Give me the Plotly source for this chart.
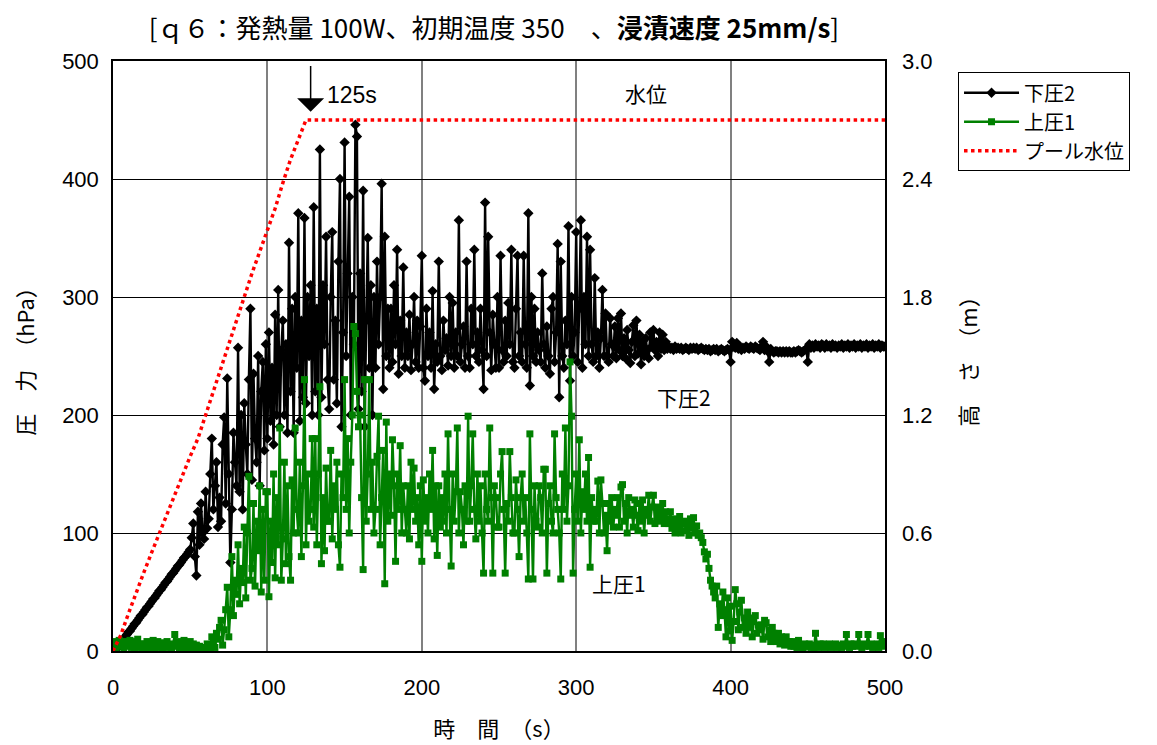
import plotly.graph_objects as go

# time axis for pressure series (s), every 1 s
t_p = list(range(0, 501))

# 下圧2 (hPa)
p_low2 = [
    0, 0, 2, 3, 5, 7, 9, 10, 12, 14,
    16, 17, 19, 21, 23, 24, 26, 28, 30, 31,
    33, 35, 37, 38, 40, 42, 44, 45, 47, 49,
    51, 52, 54, 56, 58, 59, 61, 63, 65, 66,
    68, 70, 72, 73, 75, 77, 79, 80, 82, 84,
    86, 96, 108, 80, 64, 118, 90, 125, 100, 95,
    135, 104, 112, 150, 180, 120, 140, 160, 105, 130,
    110, 175, 198, 125, 231, 150, 75, 120, 185, 160,
    140, 257, 135, 200, 120, 210, 175, 150, 230, 290,
    145, 235, 180, 160, 250, 140, 220, 245, 170, 260,
    180, 270, 195, 240, 175, 285, 200, 306, 190, 255,
    280, 200, 260, 185, 346, 220, 290, 185, 300, 240,
    371, 195, 280, 215, 367, 210, 300, 250, 310, 200,
    376, 220, 290, 200, 425, 215, 310, 260, 351, 230,
    205, 300, 355, 230, 280, 210, 330, 400, 190, 270,
    431, 250, 320, 385, 200, 300, 260, 446, 436, 205,
    320, 220, 390, 190, 280, 350, 240, 310, 200, 300,
    240, 330, 260, 300, 396, 222, 351, 250, 290, 240,
    290, 245, 310, 260, 340, 235, 280, 250, 325, 240,
    270, 250, 285, 238, 260, 300, 245, 280, 240, 275,
    335, 240, 229, 290, 250, 270, 240, 305, 222, 260,
    245, 330, 250, 238, 280, 255, 265, 242, 300, 250,
    295, 240, 270, 250, 365, 245, 260, 275, 240, 330,
    250, 240, 290, 260, 340, 250, 270, 245, 290, 255,
    222, 380, 250, 351, 270, 238, 285, 260, 240, 300,
    240, 335, 255, 245, 280, 250, 295, 260, 340, 245,
    240, 290, 335, 250, 270, 245, 335, 260, 240, 371,
    225, 300, 250, 290, 245, 270, 255, 245, 320, 260,
    240, 275, 250, 235, 290, 300, 245, 270, 345, 215,
    330, 250, 240, 280, 260, 360, 229, 300, 250, 270,
    355, 245, 290, 365, 240, 300, 260, 351, 250, 340,
    260, 245, 316, 250, 270, 240, 265, 306, 250, 286,
    250, 245, 282, 260, 250, 275, 248, 282, 255, 286,
    250, 265, 248, 272, 255, 244, 262, 276, 250, 280,
    252, 268, 243, 262, 250, 265, 255, 248, 270, 258,
    272, 255, 262, 250, 270, 256, 268, 255, 262, 256,
    258, 256, 257, 255, 258, 256, 257, 256, 257, 255,
    256, 257, 256, 255, 257, 256, 257, 256, 257, 255,
    256, 257, 256, 255, 256, 255, 256, 254, 255, 256,
    255, 256, 254, 255, 256, 255, 254, 255, 256, 255,
    245, 262, 258, 257, 261, 256, 258, 255, 257, 256,
    258, 257, 256, 258, 257, 256, 258, 257, 256, 255,
    258, 262, 255, 258, 254, 245, 256, 254, 253, 254,
    254, 253, 254, 253, 254, 253, 254, 253, 254, 253,
    253, 254, 253, 254, 255, 254, 253, 254, 255, 256,
    245, 260, 257, 259, 257, 260, 258, 259, 257, 260,
    259, 257, 260, 258, 259, 257, 260, 258, 259, 257,
    259, 258, 260, 257, 259, 258, 260, 257, 259, 258,
    260, 257, 259, 258, 260, 257, 259, 258, 260, 257,
    259, 258, 260, 257, 259, 258, 260, 257, 259, 258,
    258,
]

# 上圧1 (hPa)
p_up1 = [
    5, 8, 3, 6, 9, 4, 7, 2, 8, 5,
    4, 9, 3, 7, 2, 8, 10, 3, 6, 2,
    6, 4, 8, 2, 6, 3, 9, 1, 5, 8,
    3, 6, 2, 7, 4, 8, 3, 5, 2, 6,
    14, 4, 8, 2, 6, 3, 9, 1, 5, 0,
    8, 3, 6, 2, 5, 1, 4, 0, 3, 1,
    2, 6, 4, 0, 12, 8, 3, 15, 10, 20,
    26, 5, 18, 35, 54, 12, 35, 80, 30, 60,
    48, 90, 40, 70, 58, 105, 45, 100, 148, 60,
    70, 125, 55, 110, 85, 140, 50, 120, 60, 135,
    135, 46, 110, 75, 150, 62, 130, 90, 189, 60,
    95, 160, 74, 140, 80, 60, 145, 100, 189, 120,
    100, 160, 80, 140, 230, 90, 150, 110, 120, 180,
    105, 180, 90, 150, 224, 74, 130, 85, 155, 110,
    110, 170, 95, 140, 120, 160, 90, 71, 150, 130,
    230, 120, 180, 100, 160, 200, 275, 269, 220, 190,
    200, 130, 69, 230, 110, 150, 230, 120, 160, 100,
    120, 165, 199, 90, 130, 170, 57, 194, 110, 150,
    115, 179, 140, 76, 150, 120, 174, 100, 140, 120,
    100, 140, 95, 160, 120, 155, 110, 130, 90, 140,
    76, 145, 110, 130, 100, 150, 120, 170, 95, 140,
    81, 140, 105, 130, 110, 150, 100, 184, 120, 72,
    150, 110, 135, 189, 100, 135, 120, 90, 140, 110,
    199, 110, 140, 184, 120, 95, 150, 110, 140, 100,
    66, 150, 120, 110, 189, 130, 66, 140, 130, 105,
    105, 150, 169, 120, 66, 125, 110, 169, 130, 100,
    100, 145, 120, 80, 130, 150, 110, 130, 100, 61,
    184, 120, 61, 140, 110, 105, 140, 130, 100, 154,
    154, 66, 125, 140, 110, 100, 184, 130, 120, 100,
    61, 150, 120, 189, 110, 140, 245, 199, 66, 120,
    150, 110, 179, 100, 135, 120, 150, 110, 164, 71,
    130, 110, 120, 110, 144, 100, 145, 125, 100, 115,
    85, 125, 110, 130, 105, 120, 115, 130, 105, 139,
    141, 110, 125, 100, 130, 115, 120, 105, 128, 115,
    102, 125, 110, 128, 100, 120, 115, 132, 110, 122,
    132, 108, 122, 112, 120, 110, 125, 108, 118, 112,
    108, 118, 104, 112, 100, 110, 102, 114, 100, 108,
    110, 102, 108, 98, 112, 104, 113, 100, 106, 98,
    100, 96, 92, 84, 78, 82, 70, 60, 55, 50,
    45, 55, 20, 40, 30, 50, 35, 12, 45, 17,
    38, 9, 25, 52, 40, 18, 33, 43, 20, 28,
    15, 33, 20, 28, 12, 25, 30, 15, 22, 18,
    22, 10, 26, 24, 12, 18, 8, 20, 15, 10,
    8, 15, 6, 12, 9, 5, 12, 6, 8, 4,
    8, 4, 6, 3, 9, 4, 5, 2, 6, 4,
    4, 6, 3, 5, 2, 15, 4, 3, 6, 4,
    6, 3, 5, 4, 6, 3, 5, 4, 6, 3,
    5, 4, 3, 6, 4, 14, 5, 3, 6, 4,
    6, 4, 5, 14, 5, 3, 6, 4, 5, 14,
    4, 6, 3, 5, 4, 6, 3, 13, 5, 4,
    8,
]

# プール水位 (m), every 5 s
t_w = list(range(0, 501, 5))
h_ramp = [0.0, 0.08, 0.19, 0.30, 0.40, 0.50, 0.60, 0.70, 0.80, 0.89,
          0.99, 1.08, 1.20, 1.32, 1.45, 1.57, 1.69, 1.81, 1.92, 2.03,
          2.14, 2.25, 2.38, 2.50, 2.60, 2.70]
h_flat = [2.70] * (len(t_w) - len(h_ramp))
h_water = h_ramp + h_flat

x_ticks = [0, 100, 200, 300, 400, 500]
y_ticks = [0, 100, 200, 300, 400, 500]
y2_ticks = [0.0, 0.6, 1.2, 1.8, 2.4, 3.0]
y2_labels = ["0.0", "0.6", "1.2", "1.8", "2.4", "3.0"]

JP = "Noto Sans CJK JP"
NUM = "Liberation Sans, Arial"

fig = go.Figure()
fig.add_trace(go.Scatter(
    x=t_p, y=p_low2, name="下圧2", mode="lines+markers",
    line=dict(color="black", width=2.4, simplify=False),
    marker=dict(symbol="diamond", size=8, color="black"),
))
fig.add_trace(go.Scatter(
    x=t_p, y=p_up1, name="上圧1", mode="lines+markers",
    line=dict(color="#008000", width=2.4, simplify=False),
    marker=dict(symbol="square", size=7, color="#008000"),
))
fig.add_trace(go.Scatter(
    x=t_w, y=h_water, name="プール水位", mode="lines", yaxis="y2",
    line=dict(color="red", width=3.5, dash="dot"),
))

fig.update_layout(
    width=1149, height=737,
    paper_bgcolor="white", plot_bgcolor="white",
    margin=dict(l=105, r=272, t=53, b=94),
    showlegend=True,
    legend=dict(
        x=1.0946, y=0.981, xanchor="left", yanchor="top",
        bordercolor="black", borderwidth=1, bgcolor="white",
        font=dict(family=JP, size=20, color="black"),
        tracegroupgap=0, itemwidth=55,
    ),
    title=dict(
        text="[ｑ６：発熱量 100W、初期温度 350　、<b>浸漬速度 25mm/s</b>]",
        xref="paper", x=0.4935, xanchor="center",
        yref="container", y=0.972, yanchor="middle",
        font=dict(family=JP, size=26, color="black"),
    ),
    xaxis=dict(
        range=[0, 500], tickvals=x_ticks, showgrid=True, gridcolor="#808080",
        gridwidth=1.5, showline=True, linecolor="black", linewidth=1.5, mirror=True,
        ticks="", zeroline=False, automargin=False, ticklabelstandoff=16,
        tickfont=dict(family=NUM, size=22, color="black"),
        title=dict(text="時　間　（s）", font=dict(family=JP, size=22, color="black"), standoff=22),
    ),
    yaxis=dict(
        range=[0, 500], tickvals=y_ticks, showgrid=True, gridcolor="black",
        gridwidth=1, showline=True, linecolor="black", linewidth=1.5, mirror=True,
        ticks="", zeroline=False, automargin=False, ticklabelstandoff=8,
        tickfont=dict(family=NUM, size=22, color="black"),
        title=dict(text="圧　力　（hPa）", font=dict(family=JP, size=22, color="black"), standoff=28),
    ),
    yaxis2=dict(
        range=[0, 3.0], tickvals=y2_ticks, ticktext=y2_labels, overlaying="y", side="right",
        showgrid=False, zeroline=False, ticks="", showline=False, automargin=False,
        ticklabelstandoff=16,
        tickfont=dict(family=NUM, size=22, color="black"),
        title=dict(text="高　さ　（m）", font=dict(family=JP, size=22, color="black"), standoff=30),
    ),
)

fig.add_annotation(
    x=128, y=457, ax=128, ay=497, xref="x", yref="y", axref="x", ayref="y",
    showarrow=True, arrowhead=1, arrowsize=3, arrowwidth=1.5, arrowcolor="black", text="",
)
fig.add_annotation(x=155, y=471, xref="x", yref="y", text="125s", showarrow=False,
                   font=dict(family=NUM, size=23, color="black"))
fig.add_annotation(x=345, y=473, xref="x", yref="y", text="水位", showarrow=False,
                   font=dict(family=JP, size=21, color="black"))
fig.add_annotation(x=370, y=215, xref="x", yref="y", text="下圧2", showarrow=False,
                   font=dict(family=JP, size=21, color="black"))
fig.add_annotation(x=328, y=58, xref="x", yref="y", text="上圧1", showarrow=False,
                   font=dict(family=JP, size=21, color="black"))

fig.write_html("out.html")
